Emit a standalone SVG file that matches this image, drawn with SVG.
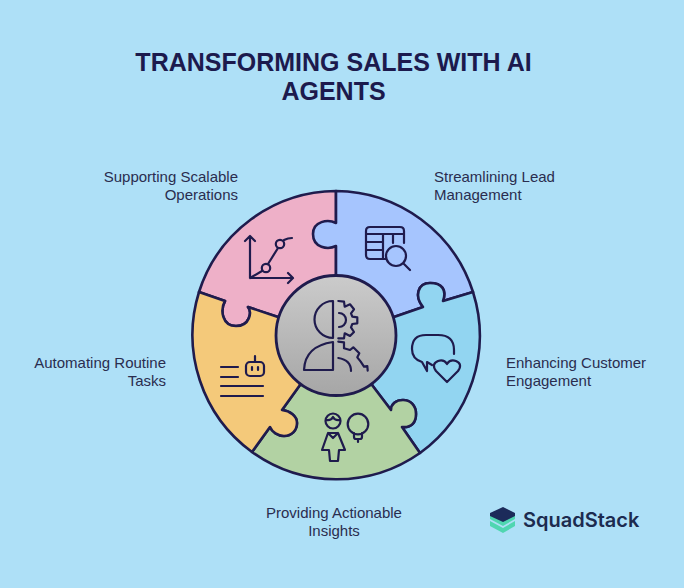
<svg xmlns="http://www.w3.org/2000/svg" width="684" height="588" viewBox="0 0 684 588">
<style>
.title{font:700 25px "Liberation Sans",Arial,sans-serif;fill:#1c1a4d;text-anchor:middle}
.lbl{font:400 15px "Liberation Sans",Arial,sans-serif;fill:#2a2d4f}
.end{text-anchor:end}.mid{text-anchor:middle}
.seg{stroke:#1f1b4d;stroke-width:2.6;stroke-linejoin:round}
.ico{fill:none;stroke:#1f1b4d;stroke-width:2.2;stroke-linecap:round;stroke-linejoin:round}
</style>
<defs><linearGradient id="g" x1="0" y1="0" x2="0" y2="1"><stop offset="0" stop-color="#cbcbcb"/><stop offset="1" stop-color="#a6a6a6"/></linearGradient></defs>
<rect width="684" height="588" fill="#aee0f7"/>
<text class="title" x="333.5" y="70.5">TRANSFORMING SALES WITH AI</text>
<text class="title" x="333.5" y="100">AGENTS</text>
<g id="node-operations">
<path class="seg" fill="#eeb0c8" d="M336,191 A145,145 0 0 0 199,292 L225,301 C220,310 222,326 236,326 C250,326 252,312 248,307 L278,317 L336,275 Z"/>
<path class="ico" d="M250,237V278H292M245,241L250,236L255,241M288,273L293,278L288,283M250,278L262,271M268,264L278,248M284,240Q288,238 292,238"/>
<circle class="ico" cx="266" cy="268" r="4.2"/><circle class="ico" cx="280" cy="244" r="4.2"/>
<text class="lbl end" x="238" y="182">Supporting Scalable</text><text class="lbl end" x="238" y="200">Operations</text>
</g>
<g id="node-lead">
<path class="seg" fill="#a6c5fe" d="M336,191 A145,145 0 0 1 473,292 L443,301 C447,290 442,283 430,283 C418,283 414,296 423,307 L394,317 L336,275 V246 C328,250 313,248 313,234 C313,221 328,219 336,223 Z"/>
<path class="ico" d="M404,243V231Q404,227 400,227H370Q366,227 366,231V255Q366,259 370,259H386M366,234H404M366,242H383M366,250H383M383,234V259M393,234V243M404,264L410,270"/>
<circle class="ico" cx="396" cy="256" r="10"/>
<text class="lbl" x="434" y="182">Streamlining Lead</text><text class="lbl" x="434" y="200">Management</text>
</g>
<g id="node-engagement">
<path class="seg" fill="#92d5f1" d="M473,292 A145,145 0 0 1 420,453 L402,427 C412,428 416,422 416,414 C416,405 410,400 403,400 C396,400 391,404 391,410 L372,385 L394,317 L423,307 C414,296 418,283 430,283 C442,283 447,290 443,301 Z"/>
<path class="ico" d="M454,354V350Q454,335 438,335H426Q412,335 412,349Q412,359 422,362L427,371V362L432,365M447,382L436,371Q431,364 438,361Q444,359 447,364Q450,359 456,361Q463,364 458,371Z"/>
<text class="lbl" x="506" y="368">Enhancing Customer</text><text class="lbl" x="506" y="386">Engagement</text>
</g>
<g id="node-insights">
<path class="seg" fill="#b2d2a3" d="M420,453 A145,145 0 0 1 252,452 L270,427 C272,432 278,436 284,436 C292,436 297,430 297,423 C297,416 290,411 282,410 L300,385 L372,385 L391,410 C391,404 396,400 403,400 C410,400 416,405 416,414 C416,422 412,428 402,427 Z"/>
<circle class="ico" cx="333" cy="421" r="7.5"/>
<path class="ico" d="M326,420Q331,421 333,417Q335,421 340,420M328,433H338L345,450H339L338,461H330L329,450H322ZM328,433L333,438L338,433M354,433V437Q354,439 356,439H360Q362,439 362,437V433M358,439V442"/>
<circle class="ico" cx="358" cy="424" r="10.3"/>
<text class="lbl mid" x="334" y="518">Providing Actionable</text><text class="lbl mid" x="334" y="536">Insights</text>
</g>
<g id="node-routine">
<path class="seg" fill="#f4c97a" d="M199,292 A145,145 0 0 0 252,452 L270,427 C272,432 278,436 284,436 C292,436 297,430 297,423 C297,416 290,411 282,410 L300,385 L278,317 L248,307 C252,312 250,326 236,326 C222,326 220,310 225,301 Z"/>
<rect class="ico" x="246" y="362" width="18" height="14" rx="4"/>
<path class="ico" d="M255,356V362M252,367V370M258,367V370M221,367H238M221,377H238M221,386H263M221,396H263"/>
<text class="lbl end" x="166" y="368">Automating Routine</text><text class="lbl end" x="166" y="386">Tasks</text>
</g>
<g id="node-center">
<circle cx="336" cy="335.5" r="60" fill="url(#g)" stroke="#1f1b4d" stroke-width="2.8"/>
<path class="ico" d="M333,301V338A18.5,18.5 0 0 1 333,301ZM333,342V370H304Q305,346 333,342ZM338.3,301L344,301.7L344.7,306.7L350,304.3L354,309.3L351,313.3L352.3,316.7L357.3,317.3V323.3L352.3,324L351,327.3L354,332L350,336L344.7,333.3L344,338.3H338.3M339,313A7,7 0 0 1 339,327M338.3,341.7L344,342.3V348.3L350,350L353.3,347.3L359.3,353.3L357.3,357.3L360.7,361.7L364,366.7L367.3,366L367.7,370.7M338.3,358Q351,360 351,371"/>
</g>
<g id="logo">
<path fill="#3ed3a3" d="M490,514L503,521L515,514V519L503,526L490,519ZM490,521L503,528L515,521V526L503,533L490,526Z" opacity=".85"/>
<path fill="#1c2b5a" d="M503,507L515,513V516L503,522L490,516V513Z"/>
<text x="523" y="527" style="font:600 20px Inter,'Liberation Sans',sans-serif;fill:#1c2b4f">SquadStack</text>
</g>
<g id="connectors"/>
</svg>
